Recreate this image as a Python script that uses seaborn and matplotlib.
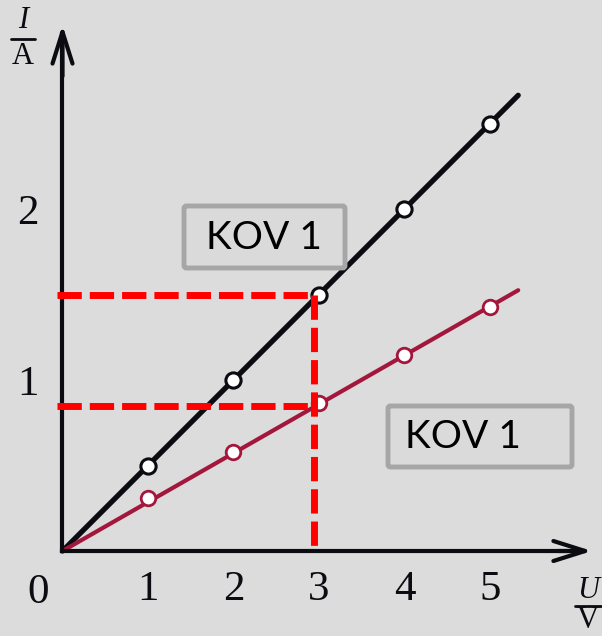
import matplotlib
matplotlib.use("Agg")
import matplotlib.pyplot as plt
import seaborn as sns
import pandas as pd
from matplotlib.patches import FancyBboxPatch

# measured points (U in V, I in A)
u_points = [1, 2, 3, 4, 5]
i_black = [0.5, 1.0, 1.5, 2.0, 2.5]
i_red = [0.31, 0.58, 0.865, 1.146, 1.427]

# straight-line fits through the origin
u_line = [0, 5.33]
i_black_line = [0, 2.665]
i_red_line = [0, 1.525]

# reading at U = 3 V
u_read = 2.94
i_read = [1.5, 0.85]

x_ticks = [1, 2, 3, 4, 5]
x_tick_labels = ["1", "2", "3", "4", "5"]
y_ticks = [1, 2]
y_tick_labels = ["1", "2"]
y_minor_ticks = [0.5, 1.5, 2.5]

box_text = "KOV 1"

BG = "#dcdcdc"
BLACK = "#0b0b12"
CRIMSON = "#a3173d"

sns.set_theme(style="white")
plt.rcParams["font.family"] = ["Liberation Serif", "DejaVu Serif"]

fig = plt.figure(figsize=(6.02, 6.36), dpi=100, facecolor=BG)
ax = fig.add_axes([0, 0, 1, 1])
ax.set_facecolor(BG)

# axis scaling: 85.5 px per volt, 171 px per ampere
ax.set_xlim(-62.5 / 85.5, (602 - 62.5) / 85.5)
ax.set_ylim(-(636 - 551) / 171, 551 / 171)

x_tip = (592 - 62.5) / 85.5
y_tip = (551 - 25) / 171

# fit lines
fits = pd.DataFrame({"U": u_line, "black": i_black_line, "red": i_red_line})
sns.lineplot(data=fits, x="U", y="black", ax=ax, color=BLACK, lw=3.8,
             solid_capstyle="round", zorder=3)
sns.lineplot(data=fits, x="U", y="red", ax=ax, color=CRIMSON, lw=3.0,
             solid_capstyle="round", zorder=3)

# measured points as open circles
pts = pd.DataFrame({"U": u_points, "black": i_black, "red": i_red})
sns.scatterplot(data=pts, x="U", y="black", ax=ax, s=120, color="white",
                edgecolor=BLACK, linewidth=2.2, zorder=5)
sns.scatterplot(data=pts, x="U", y="red", ax=ax, s=110, color="white",
                edgecolor=CRIMSON, linewidth=2.0, zorder=5)

# red dashed reading lines
dash = dict(color="#ff0000", lw=5, dashes=(3.5, 1.15), dash_capstyle="butt", zorder=6)
for yv in i_read:
    ax.plot([-0.07, u_read], [yv, yv], **dash)
ax.plot([u_read, u_read], [i_read[0], 0], **dash)

# axes through the origin
for side in ["top", "right"]:
    ax.spines[side].set_visible(False)
ax.spines["left"].set_position(("data", 0))
ax.spines["bottom"].set_position(("data", 0))
ax.spines["left"].set_bounds(0, y_tip - 0.05)
ax.spines["bottom"].set_bounds(0, x_tip - 0.1)
for side in ["left", "bottom"]:
    ax.spines[side].set_linewidth(3)
    ax.spines[side].set_color(BLACK)
    ax.spines[side].set_zorder(4)

ax.set_xticks(x_ticks, x_tick_labels)
ax.set_yticks(y_ticks, y_tick_labels)
ax.set_yticks(y_minor_ticks, minor=True)
ax.tick_params(axis="both", which="both", direction="inout", length=14,
               width=2.2, color=BLACK, labelsize=31, labelcolor=BLACK)
ax.tick_params(axis="x", pad=7)
ax.tick_params(axis="y", pad=10)
ax.set_xlabel("")
ax.set_ylabel("")

arrow = dict(arrowstyle="->,head_length=1.9,head_width=0.6", lw=3, color=BLACK,
             shrinkA=0, shrinkB=0)
ax.annotate("", xy=(0, y_tip), xytext=(0, y_tip - 0.3), arrowprops=arrow, zorder=4)
ax.annotate("", xy=(x_tip, 0), xytext=(x_tip - 0.4, 0), arrowprops=arrow, zorder=4)

# origin label
ax.annotate("0", xy=(0, 0), xytext=(-24, -42), textcoords="offset pixels",
            ha="center", va="center", fontsize=31, color=BLACK)

# quantity/unit axis labels
def frac(x, y_num, y_line, y_den, num, den, half):
    fig.text(x / 602, 1 - y_num / 636, num, ha="center", va="center",
             fontsize=22, style="italic", color=BLACK)
    fig.text(x / 602, 1 - y_den / 636, den, ha="center", va="center",
             fontsize=22, color=BLACK)
    fig.add_artist(plt.Line2D([(x - half) / 602, (x + half) / 602],
                              [1 - y_line / 636, 1 - y_line / 636],
                              color=BLACK, lw=2, transform=fig.transFigure))

frac(23, 20, 39, 57, "I", "A", 12)
frac(588, 590, 606, 621, "U", "V", 13)

# labelled boxes
def label_box(x0, y0, x1, y1, tx, ty):
    box = FancyBboxPatch((x0 / 602, 1 - y1 / 636), (x1 - x0) / 602, (y1 - y0) / 636,
                         boxstyle="round,pad=0,rounding_size=0.004",
                         transform=fig.transFigure, facecolor="#dadada",
                         edgecolor="#a6a6a6", lw=3.5, zorder=7)
    fig.add_artist(box)
    fig.text(tx / 602, 1 - ty / 636, box_text, ha="center", va="center",
             fontsize=28, family="Lato", color="black", zorder=8)

label_box(184, 206, 345, 268, 264, 238)
label_box(388, 406, 572, 467, 463, 437)

fig.savefig("out.png", dpi=100, facecolor=BG)
